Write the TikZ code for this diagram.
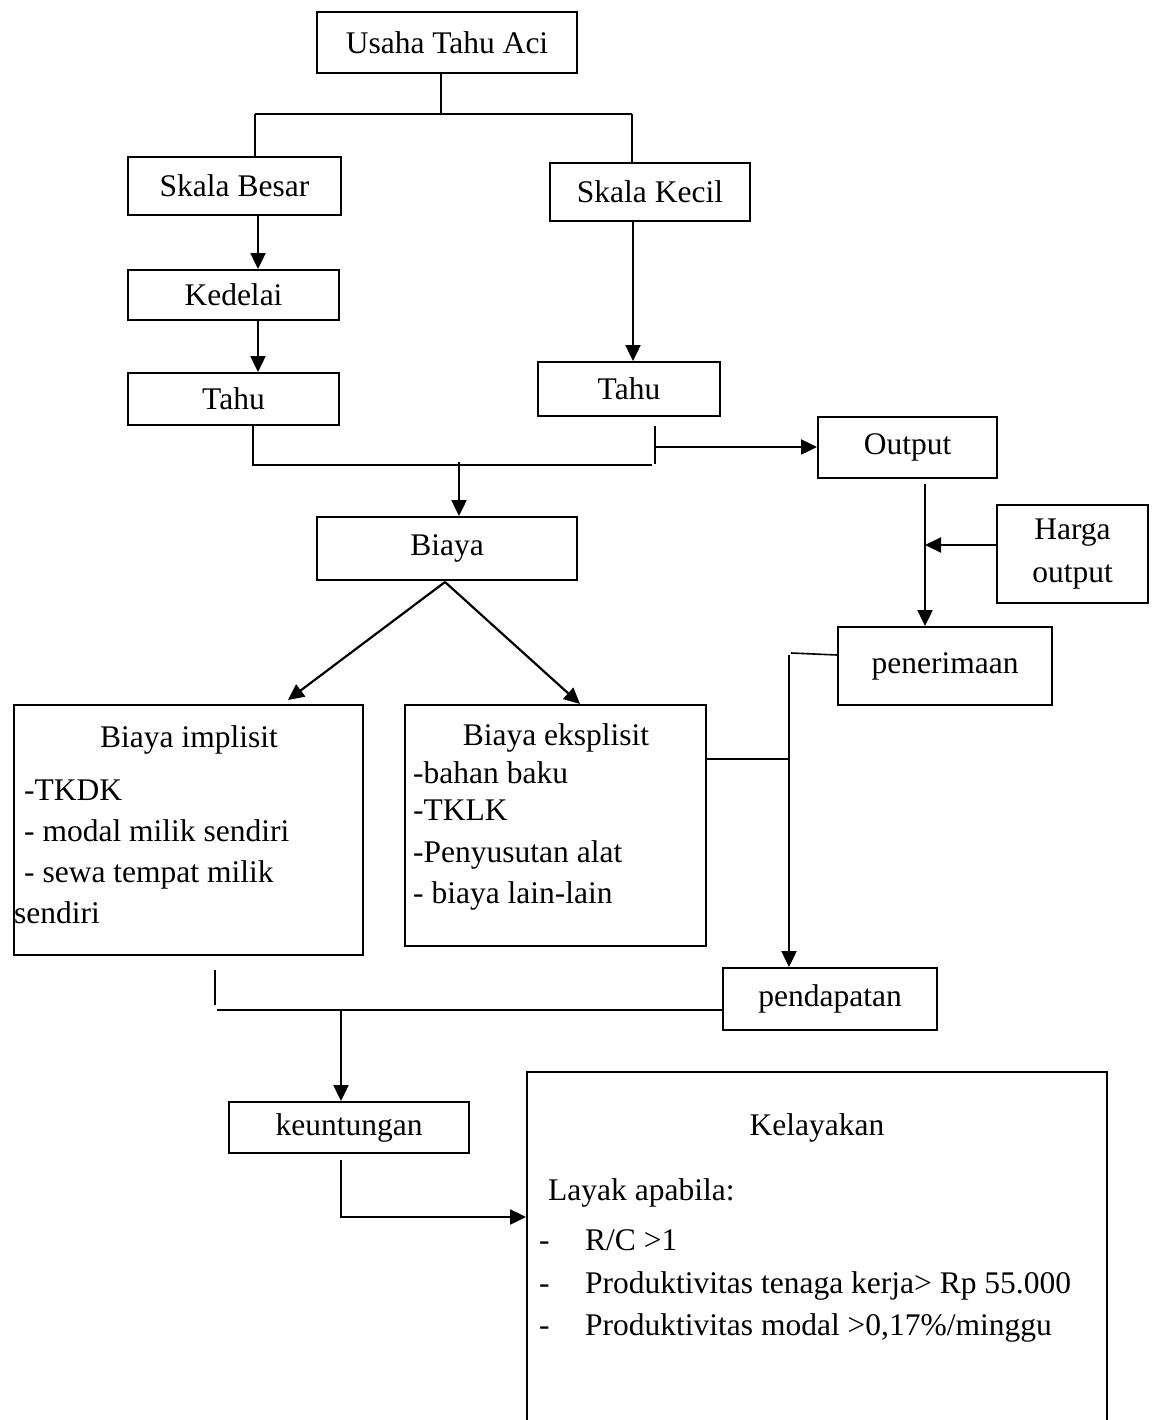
\documentclass[tikz,border=0pt]{standalone}
\usepackage{fontspec}
\setmainfont{Liberation Serif}
\usetikzlibrary{arrows.meta}
\begin{document}
\begin{tikzpicture}[x=1pt,y=-1pt,
  box/.style={draw, line width=1.9pt, inner sep=0pt, align=center},
  txt/.style={inner sep=0pt, anchor=base west},
  ctxt/.style={inner sep=0pt, anchor=base},
  ln/.style={line width=2.2pt},
  arr/.style={line width=2.2pt, -{Triangle[length=16pt,width=15pt]}},
  every node/.append style={font=\fontsize{31.5}{43}\selectfont}]
\useasboundingbox[fill=white] (0,0) rectangle (1154,1420);
\begin{scope}
\clip (0,0) rectangle (1154,1420);
% boxes
\node[box, minimum width=260, minimum height=61] (usaha) at (447,42.5) {Usaha Tahu Aci};
\node[box, minimum width=213, minimum height=58] (besar) at (234.5,186) {Skala Besar};
\node[box, minimum width=200, minimum height=58] (kecil) at (650,192) {Skala Kecil};
\node[box, minimum width=211, minimum height=50] (kedelai) at (233.5,295) {Kedelai};
\node[box, minimum width=211, minimum height=52] (tahuL) at (233.5,399) {Tahu};
\node[box, minimum width=182, minimum height=54] (tahuR) at (629,389) {Tahu};
\node[box, minimum width=179, minimum height=61] (output) at (907.5,447.5) {Output};
\node[box, minimum width=151, minimum height=98] (harga) at (1072.5,554) {Harga\\output};
\node[box, minimum width=260, minimum height=63] (biaya) at (447,548.5) {Biaya};
\node[box, minimum width=214, minimum height=78] (penerimaan) at (945,666) {\raisebox{6pt}{penerimaan}};
\node[box, minimum width=349, minimum height=250] (implisit) at (188.5,830) {};
\node[box, minimum width=301, minimum height=241] (eksplisit) at (555.5,825.5) {};
\node[box, minimum width=214, minimum height=62] (pendapatan) at (830,999) {pendapatan};
\node[box, minimum width=240, minimum height=51] (keuntungan) at (349,1127.5) {keuntungan};
\node[box, minimum width=580, minimum height=368] (kelayakan) at (817,1256) {};

% texts inside big boxes
\node[ctxt] (imT) at (189,747) {Biaya implisit};
\node[txt] (im1) at (24,800) {-TKDK};
\node[txt] (im2) at (24,841) {- modal milik sendiri};
\node[txt] (im3) at (24,882) {- sewa tempat milik};
\node[txt] (im4) at (14,923) {sendiri};
\node[ctxt] (ekT) at (556,745) {Biaya eksplisit};
\node[txt] (ek1) at (413,783) {-bahan baku};
\node[txt] (ek2) at (413,820) {-TKLK};
\node[txt] (ek3) at (413,862) {-Penyusutan alat};
\node[txt] (ek4) at (413,903) {- biaya lain-lain};
\node[ctxt] (klT) at (817,1135) {Kelayakan};
\node[txt] (kl0) at (548,1200) {Layak apabila:};
\node[txt] (kd1) at (539,1250) {-};
\node[txt] (kd2) at (539,1293) {-};
\node[txt] (kd3) at (539,1335) {-};
\node[txt] (kl1) at (585,1250) {R/C >1};
\node[txt] (kl2) at (585,1293) {Produktivitas tenaga kerja> Rp 55.000};
\node[txt] (kl3) at (585,1335) {Produktivitas modal >0,17\%/minggu};

% top tree
\coordinate (t1) at (441,114);
\coordinate (tL) at (255,114);
\coordinate (tR) at (632,114);
\draw[ln] (usaha.south -| t1) -- (t1);
\draw[ln] (tL) -- (tR);
\draw[ln] (tL) -- (tL |- besar.north);
\draw[ln] (tR) -- (tR |- kecil.north);

% left chain
\coordinate (xa) at (258,0);
\draw[arr] (besar.south -| xa) -- (kedelai.north -| xa);
\draw[arr] (kedelai.south -| xa) -- (tahuL.north -| xa);
\coordinate (xb) at (633,0);
\draw[arr] (kecil.south -| xb) -- (tahuR.north -| xb);

% join of Tahu boxes
\coordinate (jL) at (253,465);
\coordinate (jR) at (652,465);
\coordinate (kT) at (655,426);
\coordinate (kB) at (655,464);
\coordinate (kM) at (655,447);
\coordinate (jA) at (459,462);
\draw[ln] (tahuL.south -| jL) -- (jL) -- (jR);
\draw[ln] (kT) -- (kB);
\draw[arr] (kM) -- (output.west |- kM);
\draw[arr] (jA) -- (biaya.north -| jA);

% biaya branches
\coordinate (bs) at (445,582);
\coordinate (bl) at (288,700);
\coordinate (br) at (580,704);
\draw[arr] (bs) -- (bl);
\draw[arr] (bs) -- (br);

% output -> penerimaan
\coordinate (xo) at (925,0);
\coordinate (hj) at (925,545);
\draw[arr] (output.south -| xo) ++(0,5) -- (penerimaan.north -| xo);
\draw[arr] (harga.west |- hj) -- (hj);

% penerimaan / eksplisit -> pendapatan
\coordinate (pv) at (789,655);
\coordinate (pe) at (789,759);
\draw[line width=1.6pt] (penerimaan.west |- 0,655) -- (791,653);
\draw[arr] (pv) -- (pendapatan.north -| pv);
\draw[line width=1.6pt] (eksplisit.east |- pe) -- (pe);

% pendapatan / implisit -> keuntungan
\coordinate (tk1) at (215,970);
\coordinate (tk2) at (215,1005);
\coordinate (hl) at (217,1010);
\coordinate (ka) at (341,1010);
\draw[ln] (tk1) -- (tk2);
\draw[ln] (hl) -- (pendapatan.west |- hl);
\draw[arr] (ka) -- (keuntungan.north -| ka);

% keuntungan -> kelayakan
\coordinate (kc) at (341,1217);
\draw[arr] (keuntungan.south -| kc) ++(0,6) -- (kc) -- (kelayakan.west |- kc);
\end{scope}
\end{tikzpicture}
\end{document}
